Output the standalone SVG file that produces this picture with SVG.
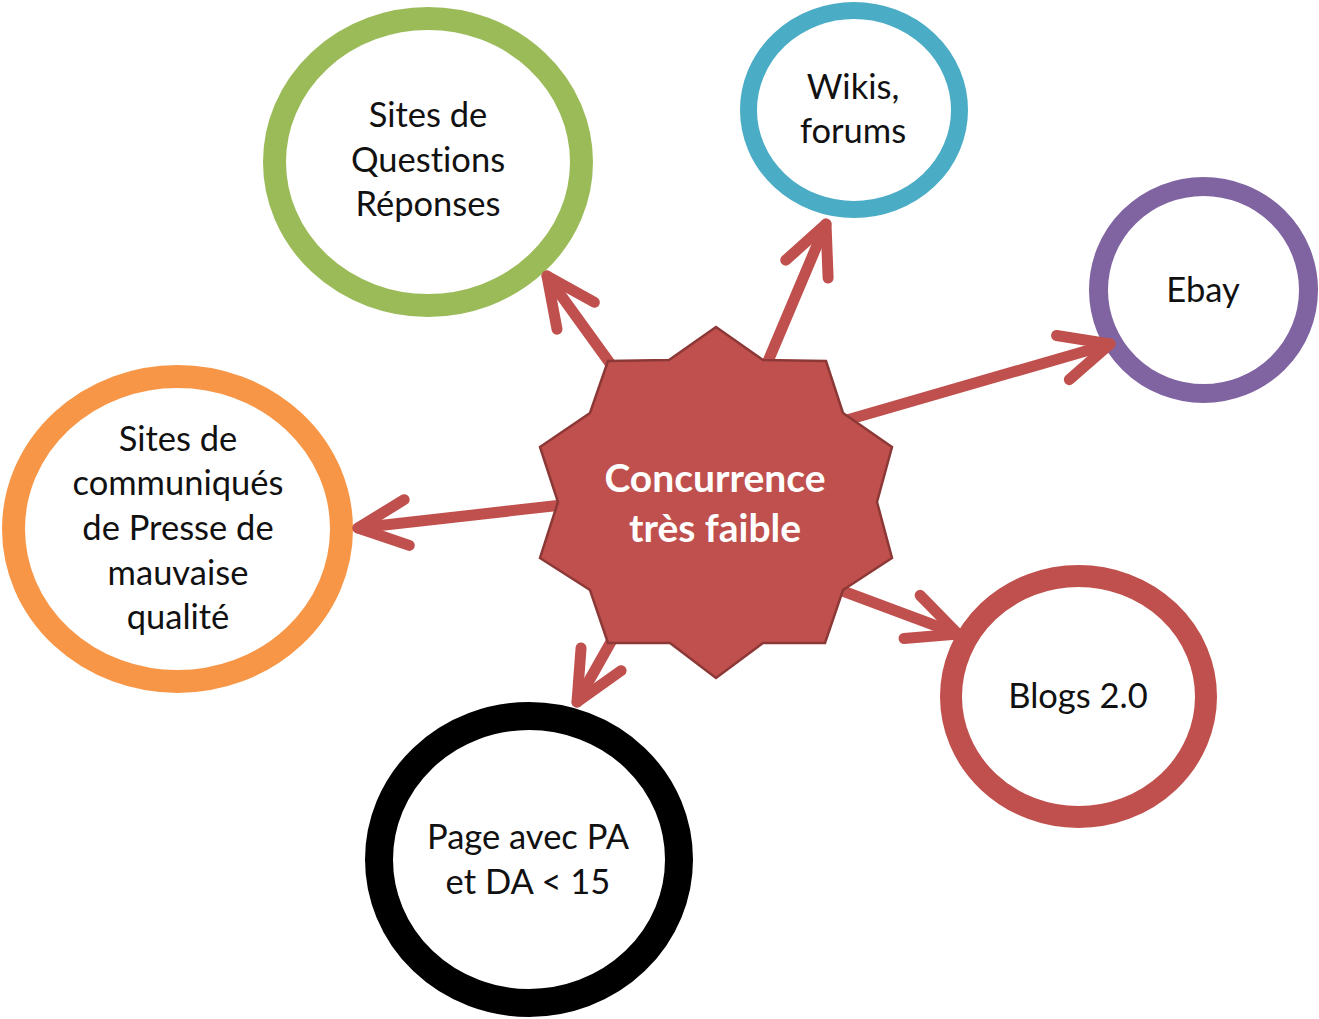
<svg xmlns="http://www.w3.org/2000/svg" width="1319" height="1019" viewBox="0 0 1319 1019">
<style>
.ring{fill:#ffffff;}
.lbl{font-family:Lato,"Liberation Sans",sans-serif;font-size:34.5px;fill:#111111;text-anchor:middle;font-variant-ligatures:none;}
.star-lbl{font-family:Lato,"Liberation Sans",sans-serif;font-size:39px;font-weight:bold;fill:#ffffff;text-anchor:middle;font-variant-ligatures:none;}
.conn{stroke:#c0504d;stroke-width:11;stroke-linecap:round;fill:none;marker-end:url(#chev);}
</style>
<defs>
<marker id="chev" markerUnits="userSpaceOnUse" viewBox="-60 -30 70 60" refX="0" refY="0" markerWidth="70" markerHeight="60" orient="auto" overflow="visible">
<path d="M-49,-23 L0,0 L-49,23" fill="none" stroke="#c0504d" stroke-width="11" stroke-linecap="round" stroke-linejoin="round"/>
</marker>
</defs>
<rect width="1319" height="1019" fill="#ffffff"/>
<g id="node-questions">
<ellipse class="ring" cx="428" cy="162" rx="153.5" ry="143.5" stroke="#9bbb59" stroke-width="23"/>
<text class="lbl" x="428" y="127">Sites de</text>
<text class="lbl" x="428" y="172">Questions</text>
<text class="lbl" x="428" y="216">Réponses</text>
</g>
<g id="node-wikis">
<ellipse class="ring" cx="854" cy="110" rx="105.5" ry="99.5" stroke="#4bacc6" stroke-width="17"/>
<text class="lbl" x="853" y="99">Wikis,</text>
<text class="lbl" x="853" y="143">forums</text>
</g>
<g id="node-ebay">
<ellipse class="ring" cx="1203.5" cy="290" rx="105" ry="103.5" stroke="#8064a2" stroke-width="19"/>
<text class="lbl" x="1203" y="302">Ebay</text>
</g>
<g id="node-communiques">
<ellipse class="ring" cx="177.5" cy="529" rx="164" ry="152.5" stroke="#f79646" stroke-width="23"/>
<text class="lbl" x="178" y="451">Sites de</text>
<text class="lbl" x="178" y="495">communiqués</text>
<text class="lbl" x="178" y="540">de Presse de</text>
<text class="lbl" x="178" y="585">mauvaise</text>
<text class="lbl" x="178" y="629">qualité</text>
</g>
<g id="node-blogs">
<ellipse class="ring" cx="1078.5" cy="696.5" rx="127.5" ry="120.5" stroke="#c0504d" stroke-width="22"/>
<text class="lbl" x="1078" y="708">Blogs 2.0</text>
</g>
<g id="node-page">
<ellipse class="ring" cx="529" cy="859.5" rx="150" ry="143.5" stroke="#000000" stroke-width="28"/>
<text class="lbl" x="528" y="849">Page avec PA</text>
<text class="lbl" x="528" y="894">et DA &lt; 15</text>
</g>
<g id="connectors">
<line class="conn" x1="612" y1="366" x2="547" y2="276"/>
<line class="conn" x1="766" y1="366" x2="826" y2="224"/>
<line class="conn" x1="840" y1="422" x2="1110" y2="344"/>
<line class="conn" x1="562" y1="505" x2="358" y2="528"/>
<line class="conn" x1="612" y1="640" x2="577" y2="702"/>
<line class="conn" x1="840" y1="590" x2="958" y2="634"/>
</g>
<g id="node-center">
<polygon points="716,327 763,360 826,361 843,413 892,447 877,502 892,558 843,590 825,643 763,643 716,678 670,643 608,643 590,590 540,558 558,502 540,447 590,413 608,361 669,360" fill="#c0504d" stroke="#8c3836" stroke-width="2.5" stroke-linejoin="miter"/>
<text class="star-lbl" x="715" y="492">Concurrence</text>
<text class="star-lbl" x="715" y="542">très faible</text>
</g>
</svg>
